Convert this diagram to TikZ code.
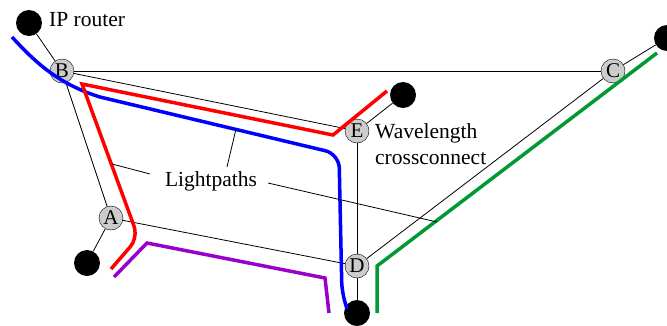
\documentclass[tikz,border=0pt]{standalone}
\usepackage{fontspec}
\setmainfont{Liberation Serif}
\definecolor{lpblue}{RGB}{0,0,255}
\definecolor{lpred}{RGB}{255,0,0}
\definecolor{lppurple}{RGB}{153,0,204}
\definecolor{lpgreen}{RGB}{0,153,51}
\begin{document}
\begin{tikzpicture}[x=1pt,y=-1pt,
  xc/.style={circle,draw,fill=gray!40,minimum size=24pt,inner sep=0pt,font=\fontsize{21}{21}\selectfont},
  router/.style={circle,fill=black,minimum size=26pt,inner sep=0pt},
  link/.style={draw,line width=0.8pt},
  lp/.style={line width=3.5pt},
  lbl/.style={font=\fontsize{21.5}{26}\selectfont,inner sep=0pt},
  leader/.style={line width=0.8pt}]
\useasboundingbox (0,0) rectangle (667,325);
% routers
\node[router] (r1) at (29,23) {};
\node[router] (r2) at (403,95) {};
\node[router] (r3) at (667,38) {};
\node[router] (r4) at (87,263) {};
\node[router] (r5) at (357,313) {};
% crossconnects
\node[xc] (B) at (62,71) {B};
\node[xc] (C) at (613,71) {C};
\node[xc] (E) at (357,131) {E};
\node[xc] (A) at (111,218) {A};
\node[xc] (D) at (357,266) {D};
% links
\draw[link] (r1) -- (B);
\draw[link] (r2) -- (E);
\draw[link] (r3) -- (C);
\draw[link] (r4) -- (A);
\draw[link] (r5) -- (D);
\draw[link] (B) -- (C);
\draw[link] (B) -- (E);
\draw[link] (B) -- (A);
\draw[link] (A) -- (D);
\draw[link] (E) -- (D);
\draw[link] (D) -- (C);
% labels
\node[lbl,anchor=west] (iplbl) at (49,20) {IP router};
\node[lbl,anchor=west,align=left] (wxlbl) at (375,144) {Wavelength\\crossconnect};
\node[lbl] (lplbl) at (211,181) {Lightpaths};
% lightpaths
\draw[lp,lpblue] (12,37) .. controls (35,62) and (58,84) .. (100,97)
  [rounded corners=14pt] -- (339,154) -- (342,296) [sharp corners] -- (346,306);
\draw[lp,lpred] (387,91) -- (333,135) -- (82,84) -- (134,226)
  [rounded corners=10pt] -- (137,239) -- (111,269);
\draw[lp,lppurple] (114,277) -- (147,243) -- (325,278) -- (329,313);
\draw[lp,lpgreen] (377,313) -- (377,266) -- (657,53);
% leaders
\coordinate (t1) at (112,164);
\coordinate (t2) at (236,129);
\coordinate (t3) at (437,222);
\draw[leader] (150,174) -- (t1);
\draw[leader] (227,167) -- (t2);
\draw[leader] (268,183) -- (t3);
\end{tikzpicture}
\end{document}
